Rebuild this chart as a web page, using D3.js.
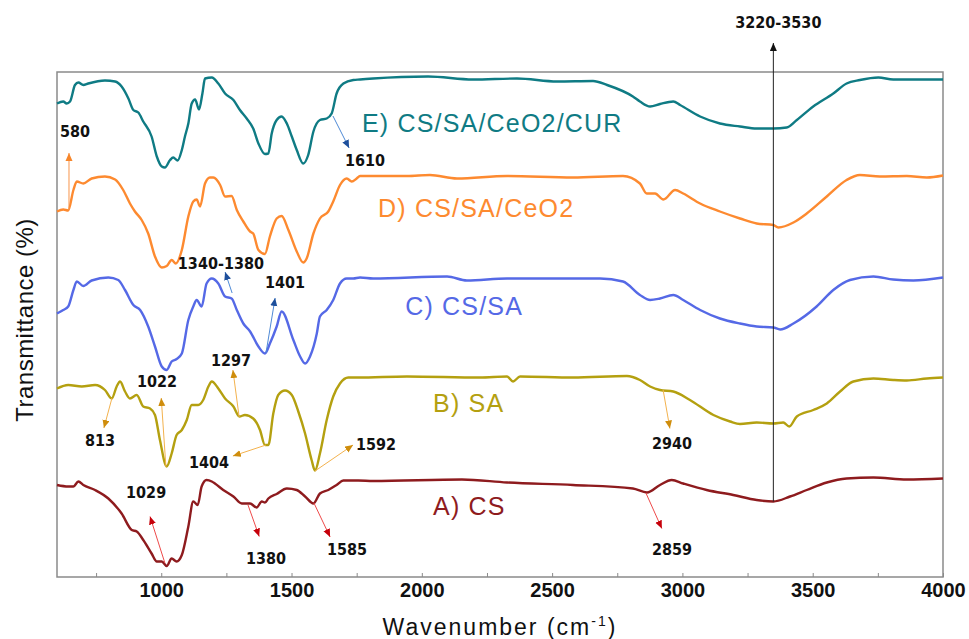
<!DOCTYPE html>
<meta charset="utf-8">
<style>
  body { margin: 0; background: #fff; }
  .frame { fill: none; stroke: #8a8a8a; stroke-width: 1.5; }
  .spec { fill: none; stroke-width: 2.4; stroke-linejoin: round; }
  .peak {
    font-family: "DejaVu Sans Condensed", "Liberation Sans Narrow", "DejaVu Sans", sans-serif;
    font-weight: bold; font-size: 16px; fill: #111;
  }
  .serie { font-family: "Liberation Sans", Arial, sans-serif; font-size: 25px; letter-spacing: 1.2px; }
  .xaxis text { font-family: "Liberation Sans", Arial, sans-serif; font-weight: bold; font-size: 20px; fill: #111; }
  .xaxis line { stroke: #8a8a8a; }
  .title { font-family: "Liberation Sans", Arial, sans-serif; fill: #111; }
</style>
<body>
<script src="https://d3js.org/d3.v7.min.js"></script>
<script>
// FTIR spectra, [wavenumber, transmittance a.u.]
var specA = [[600,18.4],[643,18.1],[663,18.1],[682,19.1],[701,18.4],[746,17.4],[797,15.7],[848,12.7],[887,9.4],[906,9.1],[931,7.4],[963,4.7],[983,3.1],[1002,3.1],[1021,2.2],[1040,3.7],[1059,3.1],[1079,4.4],[1104,10.1],[1123,15.1],[1140,14.4],[1155,18.1],[1174,19.4],[1194,19.1],[1206,18.7],[1238,17.4],[1277,16.1],[1309,14.7],[1341,14.7],[1366,13.9],[1386,15.1],[1398,14.9],[1411,15.7],[1443,16.6],[1482,17.7],[1520,17.4],[1552,16.1],[1584,14.7],[1609,16.7],[1641,17.4],[1673,18.4],[1699,19.3],[1756,19.3],[1813,19.2],[2154,19.5],[2327,18.9],[2580,18.4],[2810,17.7],[2864,16.9],[2914,18.4],[2959,19.4],[3003,18.7],[3093,17.4],[3195,16.4],[3285,15.4],[3349,15.1],[3413,16.1],[3477,17.4],[3554,18.9],[3630,19.7],[3733,19.9],[3861,19.5],[4000,19.7]];

var specB = [[600,37.7],[643,38.4],[695,38.1],[746,38.4],[784,37.4],[810,35.7],[829,38.1],[842,39.1],[861,37.1],[880,35.7],[906,36.4],[931,34.1],[957,33.7],[976,32.4],[995,27.4],[1021,22.1],[1040,24.7],[1059,28.4],[1079,29.4],[1098,31.4],[1117,34.4],[1142,34.4],[1161,35.4],[1181,38.1],[1194,39.1],[1219,37.7],[1245,35.7],[1277,34.1],[1300,32.1],[1321,32.4],[1353,31.7],[1379,29.4],[1398,26.4],[1411,26.4],[1430,32.7],[1449,36.4],[1475,37.3],[1501,36.4],[1526,33.1],[1552,28.7],[1577,23.4],[1590,21.3],[1609,24.7],[1635,31.4],[1660,36.1],[1686,38.7],[1718,39.9],[1756,39.9],[1943,40.1],[2223,39.9],[2327,40.1],[2350,39.1],[2377,40.1],[2580,39.9],[2787,40.2],[2837,39.4],[2876,38.1],[2914,37.4],[2965,37.1],[3029,35.4],[3119,32.4],[3183,31.1],[3221,30.6],[3285,30.9],[3349,30.7],[3387,30.9],[3410,30.1],[3439,32.1],[3502,33.4],[3554,34.7],[3605,37.1],[3656,39.1],[3733,39.7],[3809,39.4],[3861,39.3],[3938,39.7],[4000,39.9]];

var specC = [[600,52.7],[624,53.4],[643,54.1],[663,57.4],[676,59.1],[701,58.2],[733,59.3],[797,59.9],[835,59.4],[861,57.4],[893,54.4],[919,53.4],[950,50.1],[976,46.1],[1002,42.1],[1021,41.4],[1040,43.1],[1059,43.6],[1079,44.7],[1104,51.4],[1123,54.1],[1136,55.4],[1155,54.1],[1174,58.7],[1194,59.7],[1219,58.7],[1245,56.1],[1270,55.7],[1290,53.4],[1315,50.7],[1341,49.1],[1373,46.1],[1398,44.7],[1417,46.7],[1443,50.1],[1462,53.1],[1507,47.4],[1533,44.1],[1552,42.7],[1571,44.1],[1597,48.7],[1609,52.1],[1635,53.4],[1660,55.4],[1686,58.7],[1712,59.7],[1737,59.7],[1763,59.9],[1813,59.7],[2097,60.1],[2173,59.3],[2327,59.7],[2454,59.7],[2684,59.7],[2772,59.1],[2837,56.4],[2876,55.4],[2914,55.7],[2965,56.4],[3003,55.4],[3068,53.4],[3144,51.7],[3221,50.7],[3285,50.1],[3349,49.9],[3375,49.5],[3426,50.7],[3515,54.1],[3579,57.4],[3643,59.4],[3733,60.1],[3809,59.5],[3886,59.3],[4000,59.9]];

var specD = [[600,73.1],[624,73.5],[643,73.3],[663,77.4],[676,79.1],[701,78.7],[733,79.7],[784,80.1],[823,79.5],[854,77.4],[880,74.7],[899,73.1],[925,71.4],[950,68.7],[976,64.1],[1002,61.9],[1021,62.2],[1040,63.4],[1056,62.7],[1079,65.4],[1104,72.1],[1123,75.1],[1136,75.5],[1149,74.1],[1168,78.7],[1187,79.9],[1200,79.9],[1226,78.4],[1245,76.1],[1270,76.2],[1290,73.4],[1315,71.1],[1341,69.1],[1353,68.7],[1373,65.4],[1398,64.6],[1417,68.1],[1443,71.7],[1462,72.2],[1488,69.4],[1520,65.1],[1545,62.9],[1558,63.7],[1584,68.7],[1609,71.7],[1641,73.1],[1660,75.1],[1686,78.4],[1712,79.7],[1731,79.1],[1750,79.7],[1763,80.2],[1943,80.2],[2031,80.4],[2135,79.7],[2327,80.2],[2580,79.9],[2772,80.2],[2837,78.7],[2863,76.7],[2895,76.7],[2927,75.5],[2972,77.4],[3003,76.7],[3068,74.7],[3144,73.1],[3221,71.7],[3285,70.7],[3349,70.4],[3368,69.9],[3426,70.9],[3477,72.7],[3554,76.1],[3630,79.4],[3681,80.4],[3758,80.1],[3861,80.2],[3938,79.9],[4000,80.3]];

var specE = [[600,94.7],[624,95.1],[637,94.7],[650,95.1],[669,98.4],[682,98.9],[701,98.4],[720,98.7],[784,99.3],[823,99.1],[848,98.1],[874,95.7],[893,93.4],[912,92.9],[931,91.1],[963,88.1],[983,84.1],[1002,82.1],[1014,81.9],[1034,83.4],[1046,83.9],[1063,83.3],[1079,85.4],[1091,88.1],[1104,90.7],[1117,94.7],[1130,95.5],[1145,93.5],[1158,96.7],[1168,99.7],[1194,99.9],[1219,98.7],[1245,96.7],[1277,95.4],[1302,93.4],[1328,91.7],[1353,89.7],[1373,86.7],[1398,84.6],[1411,84.7],[1424,88.7],[1443,91.4],[1462,92.1],[1482,90.7],[1501,88.1],[1520,85.4],[1545,82.7],[1564,84.4],[1584,89.1],[1609,91.4],[1635,91.7],[1654,92.7],[1673,96.7],[1699,98.7],[1737,99.4],[1763,99.5],[1813,99.7],[2024,100.1],[2196,99.5],[2365,99.7],[2519,99.1],[2657,99.2],[2711,98.4],[2810,96.1],[2837,95.1],[2876,94.1],[2914,94.6],[2965,95.1],[2991,94.4],[3068,92.1],[3144,90.7],[3221,90.1],[3285,89.7],[3349,89.7],[3400,89.9],[3439,91.4],[3502,94.1],[3579,96.7],[3630,98.7],[3681,99.4],[3752,99.9],[3809,99.5],[3988,99.5],[4000,99.5]];

var seriesNames = ["A) CS", "B) SA", "C) CS/SA", "D) CS/SA/CeO2", "E) CS/SA/CeO2/CUR"];
var seriesColors = ["#8e1b1e", "#b4a010", "#5569e6", "#fd8a30", "#0f7b84"];
// where each series name sits: [start wavenumber, baseline value]
var nameAt = [[2043, 12.4], [2043, 33], [1936, 52.4], [1832, 72], [1770, 89]];

// peak marks: label position, arrow start (on curve) and arrow tip
var peaks = [
  {t: "580",       lx: 669,  ly: 89.2, fx: 646,  fy: 73.4, tx: 646,  ty: 84.8, c: "orange"},
  {t: "1610",      lx: 1782, ly: 83.4, fx: 1659, fy: 92.2, tx: 1721, ty: 85.8, c: "blue"},
  {t: "1340-1380", lx: 1229, ly: 62.8, fx: 1272, fy: 56.8, tx: 1245, ty: 61,   c: "blue"},
  {t: "1401",      lx: 1475, ly: 59,   fx: 1402, fy: 44.8, tx: 1437, ty: 55.8, c: "blue"},
  {t: "813",       lx: 765,  ly: 27.4, fx: 811,  fy: 35.8, tx: 780,  ty: 29.8, c: "gold"},
  {t: "1022",      lx: 984,  ly: 39.2, fx: 1018, fy: 22,   tx: 1000, ty: 35.8, c: "gold"},
  {t: "1297",      lx: 1268, ly: 43.4, fx: 1299, fy: 32,   tx: 1275, ty: 41.4, c: "gold"},
  {t: "1404",      lx: 1183, ly: 23,   fx: 1402, fy: 26.4, tx: 1275, ty: 24.2, c: "gold"},
  {t: "1592",      lx: 1824, ly: 26.6, fx: 1590, fy: 21.2, tx: 1736, ty: 26.4, c: "gold"},
  {t: "2940",      lx: 2960, ly: 26.8, fx: 2926, fy: 37.4, tx: 2952, ty: 29.7, c: "gold"},
  {t: "1029",      lx: 942,  ly: 17,   fx: 1014, fy: 2.8,  tx: 957,  ty: 12.1, c: "red"},
  {t: "1380",      lx: 1402, ly: 3.8,  fx: 1333, fy: 14.4, tx: 1376, ty: 8.1,  c: "red"},
  {t: "1585",      lx: 1713, ly: 5.6,  fx: 1586, fy: 14.8, tx: 1648, ty: 8,    c: "red"},
  {t: "2859",      lx: 2960, ly: 5.6,  fx: 2860, fy: 16.8, tx: 2921, ty: 9.7,  c: "red"}
];
var ohBand = {t: "3220-3530", wn: 3349, from: 15.1, to: 106.8, ly: 111};

var arrowCols = {
  orange: {line: "#f8944a", head: "#f7862a"},
  blue:   {line: "#4f8ad6", head: "#1d4f9c"},
  gold:   {line: "#f3b24e", head: "#cf8d0c"},
  red:    {line: "#ee4a4a", head: "#c6000a"},
  black:  {line: "#222",    head: "#111"}
};

var width = 969, height = 639;

var svg = d3.select("body").append("svg")
    .attr("width", width)
    .attr("height", height);

var x = d3.scaleLinear().domain([600, 4000]).range([57, 943]);
var y = d3.scaleLinear().domain([0, 101]).range([577, 72]);

var defs = svg.append("defs");
Object.keys(arrowCols).forEach(function(k) {
  defs.append("marker")
      .attr("id", "head-" + k)
      .attr("markerUnits", "userSpaceOnUse")
      .attr("markerWidth", 9).attr("markerHeight", 8)
      .attr("refX", 8).attr("refY", 3.5)
      .attr("orient", "auto")
    .append("path")
      .attr("d", "M0,0 L8,3.5 L0,7 z")
      .attr("fill", arrowCols[k].head);
});

// x axis, ticks pointing into the plot
var xAxis = d3.axisBottom(x)
    .tickValues(d3.range(750, 4001, 250))
    .tickSize(-4)
    .tickPadding(6)
    .tickFormat(function(d) { return d % 500 === 0 ? d : ""; });

svg.append("g")
    .attr("class", "xaxis")
    .attr("transform", "translate(0," + 577 + ")")
    .call(xAxis)
    .call(function(g) { g.select(".domain").remove(); });

svg.append("rect")
    .attr("class", "frame")
    .attr("x", x(600)).attr("y", y(101))
    .attr("width", x(4000) - x(600))
    .attr("height", y(0) - y(101));

var line = d3.line()
    .x(function(d) { return x(d[0]); })
    .y(function(d) { return y(d[1]); })
    .curve(d3.curveMonotoneX);

var allSpec = [specA, specB, specC, specD, specE];

svg.append("g").selectAll("path")
    .data(allSpec)
  .enter().append("path")
    .attr("class", "spec")
    .attr("d", line)
    .attr("stroke", function(d, i) { return seriesColors[i]; });

svg.append("g").selectAll("text")
    .data(seriesNames)
  .enter().append("text")
    .attr("class", "serie")
    .attr("x", function(d, i) { return x(nameAt[i][0]); })
    .attr("y", function(d, i) { return y(nameAt[i][1]); })
    .attr("fill", function(d, i) { return seriesColors[i]; })
    .text(function(d) { return d; });

// peak arrows
var pk = svg.append("g").selectAll("g")
    .data(peaks)
  .enter().append("g");

pk.append("line")
    .attr("x1", function(d) { return x(d.fx); })
    .attr("y1", function(d) { return y(d.fy); })
    .attr("x2", function(d) { return x(d.tx); })
    .attr("y2", function(d) { return y(d.ty); })
    .attr("stroke", function(d) { return arrowCols[d.c].line; })
    .attr("stroke-width", 1)
    .attr("marker-end", function(d) { return "url(#head-" + d.c + ")"; });

pk.append("text")
    .attr("class", "peak")
    .attr("x", function(d) { return x(d.lx); })
    .attr("y", function(d) { return y(d.ly); })
    .attr("dy", "0.36em")
    .attr("text-anchor", "middle")
    .text(function(d) { return d.t; });

// O-H / N-H band marker
svg.append("line")
    .attr("x1", x(ohBand.wn)).attr("x2", x(ohBand.wn))
    .attr("y1", y(ohBand.from)).attr("y2", y(ohBand.to))
    .attr("stroke", "#222")
    .attr("stroke-width", 1)
    .attr("marker-end", "url(#head-black)");

svg.append("text")
    .attr("class", "peak")
    .attr("x", x(ohBand.wn) + 5)
    .attr("y", y(ohBand.ly))
    .attr("dy", "0.36em")
    .attr("text-anchor", "middle")
    .text(ohBand.t);

// axis titles
var xt = svg.append("text")
    .attr("class", "title")
    .attr("x", 500).attr("y", 635)
    .attr("text-anchor", "middle")
    .style("font-size", "23px")
    .style("letter-spacing", "2px");
xt.append("tspan").text("Wavenumber (cm");
xt.append("tspan").attr("dy", -9).style("font-size", "14px").text("-1");
xt.append("tspan").attr("dy", 9).text(")");

svg.append("text")
    .attr("class", "title")
    .attr("transform", "translate(33,320) rotate(-90)")
    .attr("text-anchor", "middle")
    .style("font-size", "24px")
    .style("letter-spacing", "0.5px")
    .text("Transmittance (%)");
</script>
</body>
</html>
